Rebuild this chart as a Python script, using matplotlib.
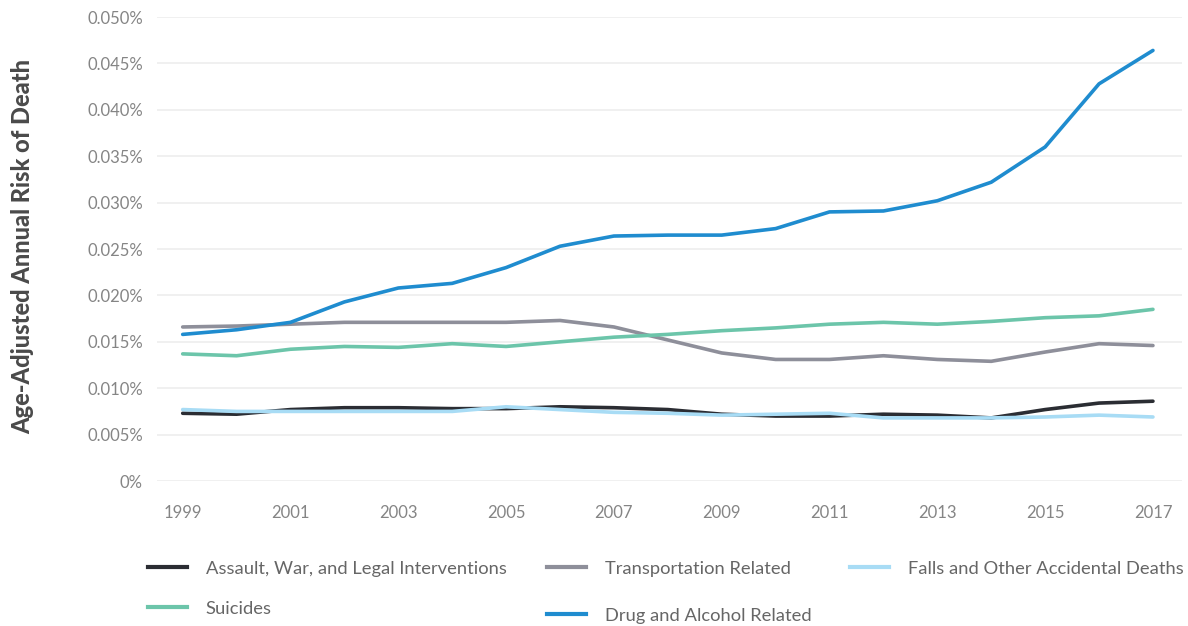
import matplotlib
matplotlib.use("Agg")
import matplotlib.pyplot as plt
from matplotlib.lines import Line2D
from matplotlib.ticker import FuncFormatter, MultipleLocator

years = list(range(1999, 2018))
assault = [0.0073, 0.0072, 0.0077, 0.0079, 0.0079, 0.0078, 0.0078, 0.0080, 0.0079, 0.0077,
           0.0072, 0.0070, 0.0070, 0.0072, 0.0071, 0.0068, 0.0077, 0.0084, 0.0086]
transport = [0.0166, 0.0167, 0.0169, 0.0171, 0.0171, 0.0171, 0.0171, 0.0173, 0.0166, 0.0152,
             0.0138, 0.0131, 0.0131, 0.0135, 0.0131, 0.0129, 0.0139, 0.0148, 0.0146]
falls = [0.0077, 0.0075, 0.0075, 0.0075, 0.0075, 0.0075, 0.0080, 0.0077, 0.0074, 0.0073,
         0.0071, 0.0072, 0.0073, 0.0068, 0.0068, 0.0068, 0.0069, 0.0071, 0.0069]
suicides = [0.0137, 0.0135, 0.0142, 0.0145, 0.0144, 0.0148, 0.0145, 0.0150, 0.0155, 0.0158,
            0.0162, 0.0165, 0.0169, 0.0171, 0.0169, 0.0172, 0.0176, 0.0178, 0.0185]
drug = [0.0158, 0.0163, 0.0171, 0.0193, 0.0208, 0.0213, 0.0230, 0.0253, 0.0264, 0.0265,
        0.0265, 0.0272, 0.0290, 0.0291, 0.0302, 0.0322, 0.0360, 0.0428, 0.0464]

labels = ["Assault, War, and Legal Interventions", "Transportation Related",
          "Falls and Other Accidental Deaths", "Suicides", "Drug and Alcohol Related"]
colors = ["#2b2d33", "#8e8f9a", "#a8dcf5", "#6cc5aa", "#1f8ccf"]
series = [assault, transport, falls, suicides, drug]

plt.rcParams['font.family'] = ['Lato', 'DejaVu Sans']

fig = plt.figure(figsize=(11.88, 6.26), dpi=100)
ax = fig.add_axes([0.132, 0.2316, 0.863, 0.7412])

for vals, c in zip(series, colors):
    ax.plot(years, vals, color=c, lw=2.6, solid_capstyle='round', solid_joinstyle='round')

ax.set_xlim(1998.52, 2017.54)
ax.set_ylim(0, 0.05)
ax.yaxis.set_major_locator(MultipleLocator(0.005))
ax.yaxis.set_major_formatter(FuncFormatter(lambda v, p: "0%" if abs(v) < 1e-9 else f"{v:.3f}%"))
ax.set_xticks(years[::2])
ax.grid(axis='y', color='#eeeeee', lw=1.2)
ax.set_axisbelow(True)
for s in ax.spines.values():
    s.set_visible(False)
ax.tick_params(axis='both', length=0, labelsize=12, colors='#858585', labelcolor='#858585')
ax.tick_params(axis='y', pad=10)
ax.tick_params(axis='x', pad=17)

fig.text(0.019, 0.607, "Age-Adjusted Annual Risk of Death", rotation=90, ha='center', va='center',
         fontsize=17, fontweight='black', color='#4a4a4a')

def mk(i):
    return Line2D([], [], color=colors[i], lw=3)

legkw = dict(frameon=False, handlelength=2.15, handletextpad=1.0,
             labelcolor='#666666', prop={'size': 13.2}, labelspacing=1.3,
             borderaxespad=0, borderpad=0)
l1 = fig.legend([mk(0), mk(3)], [labels[0], labels[3]], loc='upper left',
                bbox_to_anchor=(0.1246, 0.104), **legkw)
l2 = fig.legend([mk(1), mk(4)], [labels[1], labels[4]], loc='upper left',
                bbox_to_anchor=(0.4604, 0.104), **{**legkw, 'labelspacing': 1.68})
l3 = fig.legend([mk(2)], [labels[2]], loc='upper left',
                bbox_to_anchor=(0.7155, 0.104), **legkw)

fig.savefig("out.png", dpi=100, facecolor='white')
